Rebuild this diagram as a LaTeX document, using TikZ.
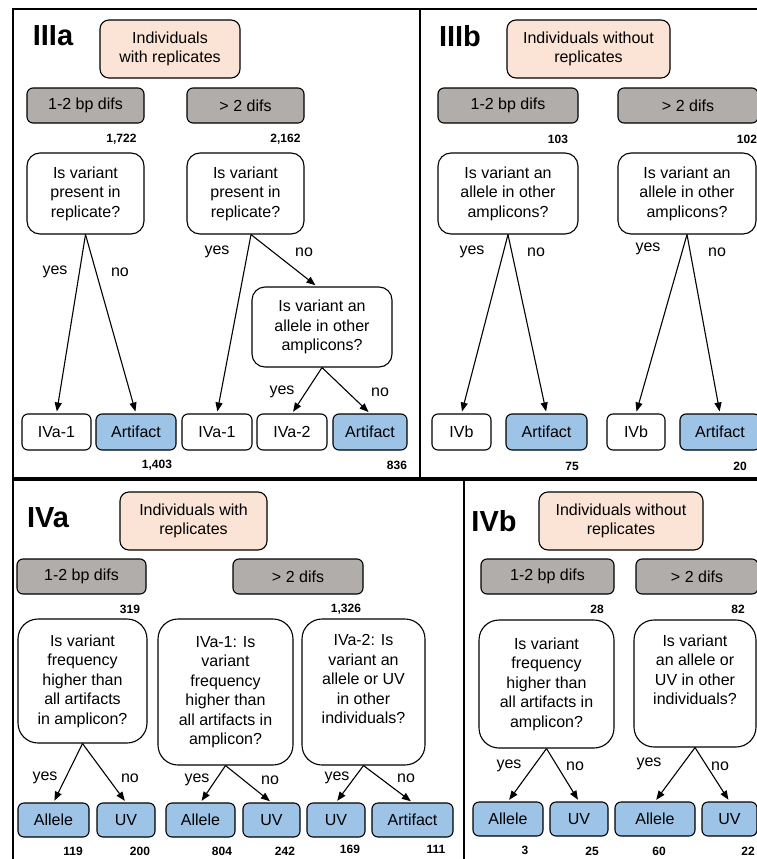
\documentclass[tikz,border=0pt]{standalone}
\usepackage{fontspec}
\setmainfont{Liberation Sans}
\usetikzlibrary{arrows.meta}
\definecolor{peach}{RGB}{251,228,213}
\definecolor{boxgray}{RGB}{176,173,171}
\definecolor{leafblue}{RGB}{157,195,230}
\begin{document}
\begin{tikzpicture}[x=1pt,y=-1pt,
  panel/.style={draw, line width=1.8pt},
  base/.style={draw, line width=1.1pt, rounded corners=6pt, align=center, inner sep=0pt, font=\fontsize{16}{19.5}\selectfont},
  topbox/.style={base, fill=peach, rounded corners=9pt},
  graybox/.style={base, fill=boxgray, rounded corners=6pt},
  qbox/.style={base, fill=white, rounded corners=13pt},
  qboxb/.style={base, fill=white, rounded corners=20pt},
  leaf/.style={base, fill=white, minimum height=36pt},
  bleaf/.style={base, fill=leafblue, minimum height=36pt},
  leafb/.style={base, fill=leafblue, minimum height=34pt},
  num/.style={font=\bfseries\fontsize{12}{14}\selectfont, inner sep=0pt},
  lbl/.style={font=\fontsize{16}{19}\selectfont, inner sep=0pt},
  ttl/.style={font=\bfseries\fontsize{29}{32}\selectfont, inner sep=0pt},
  arr/.style={-{Triangle[length=9pt,width=7pt]}, line width=1.1pt, shorten >=2pt},
]
\useasboundingbox (0,0) rectangle (757,859);
\fill[white] (0,0) rectangle (757,859);
\clip (0,0) rectangle (757,859);
% panels
\draw[panel] (13,9) rectangle (420,478);
\draw[panel] (420,9) rectangle (775,478);
\draw[panel] (13,480) rectangle (464,875);
\draw[panel] (464,480) rectangle (775,875);

% ---------------- IIIa ----------------
\node[ttl] (t3a) at (53,36) {IIIa};
\node[topbox, minimum width=140pt, minimum height=58pt] (top3a) at (170,49) {Individuals\\with replicates};
\node[graybox, minimum width=117pt, minimum height=35pt] (g3a1) at (85.5,105.5) {1-2 bp difs};
\node[graybox, minimum width=117pt, minimum height=35pt] (g3a2) at (245.5,105.5) {> 2 difs};
\node[num] (n3a1) at (121.5,139) {1,722};
\node[num] (n3a2) at (285.5,139) {2,162};
\node[qbox, minimum width=117pt, minimum height=81pt] (q3a1) at (85.5,193.5) {Is variant\\present in\\replicate?};
\node[qbox, minimum width=117pt, minimum height=81pt] (q3a2) at (245.5,193.5) {Is variant\\present in\\replicate?};
\node[qbox, minimum width=140pt, minimum height=80pt] (q3a3) at (322,327) {Is variant an\\allele in other\\amplicons?};
\node[leaf, minimum width=69pt] (l3a1) at (56.5,432) {IVa-1};
\node[bleaf, minimum width=80pt] (l3a2) at (136,432) {Artifact};
\node[leaf, minimum width=70pt] (l3a3) at (217,432) {IVa-1};
\node[leaf, minimum width=70pt] (l3a4) at (292,432) {IVa-2};
\node[bleaf, minimum width=74pt] (l3a5) at (370,432) {Artifact};
\node[num] (c3a1) at (157,465) {1,403};
\node[num] (c3a2) at (397,465) {836};
\node[lbl] (y3a1) at (55,272) {yes};
\node[lbl] (o3a1) at (120,272) {no};
\node[lbl] (y3a2) at (217,252) {yes};
\node[lbl] (o3a2) at (304,252) {no};
\node[lbl] (y3a3) at (282,392) {yes};
\node[lbl] (o3a3) at (380,392) {no};
\draw[arr] (q3a1.south) -- (l3a1.north);
\draw[arr] (q3a1.south) -- (l3a2.north);
\draw[arr] ([xshift=5.5pt]q3a2.south) -- (l3a3.north);
\draw[arr] ([xshift=5.5pt]q3a2.south) -- ([xshift=-5pt]q3a3.north);
\draw[arr] (q3a3.south) -- (l3a4.north);
\draw[arr] (q3a3.south) -- (l3a5.north);

% ---------------- IIIb ----------------
\node[ttl] (t3b) at (460,36) {IIIb};
\node[topbox, minimum width=163pt, minimum height=58pt] (top3b) at (588.5,49) {Individuals without\\replicates};
\node[graybox, minimum width=140pt, minimum height=35pt] (g3b1) at (508,105.5) {1-2 bp difs};
\node[graybox, minimum width=140pt, minimum height=35pt] (g3b2) at (688,105.5) {> 2 difs};
\node[num] (n3b1) at (558,139) {103};
\node[num] (n3b2) at (747,139) {102};
\node[qbox, minimum width=140pt, minimum height=81pt] (q3b1) at (508,193.5) {Is variant an\\allele in other\\amplicons?};
\node[qbox, minimum width=138pt, minimum height=81pt] (q3b2) at (687,193.5) {Is variant an\\allele in other\\amplicons?};
\node[leaf, minimum width=59pt] (l3b1) at (461.5,432) {IVb};
\node[bleaf, minimum width=81pt] (l3b2) at (546.5,432) {Artifact};
\node[leaf, minimum width=58pt] (l3b3) at (636,432) {IVb};
\node[bleaf, minimum width=80pt] (l3b4) at (720,432) {Artifact};
\node[num] (c3b1) at (572,466) {75};
\node[num] (c3b2) at (740,466) {20};
\node[lbl] (y3b1) at (472,252) {yes};
\node[lbl] (o3b1) at (536,252) {no};
\node[lbl] (y3b2) at (648,249) {yes};
\node[lbl] (o3b2) at (717,252) {no};
\draw[arr] (q3b1.south) -- (l3b1.north);
\draw[arr] (q3b1.south) -- (l3b2.north);
\draw[arr] (q3b2.south) -- (l3b3.north);
\draw[arr] (q3b2.south) -- (l3b4.north);

% ---------------- IVa ----------------
\node[ttl] (t4a) at (48,518) {IVa};
\node[topbox, minimum width=147pt, minimum height=58pt] (top4a) at (193.5,521) {Individuals with\\replicates};
\node[graybox, minimum width=129pt, minimum height=35pt] (g4a1) at (81.5,576.5) {1-2 bp difs};
\node[graybox, minimum width=130pt, minimum height=35pt] (g4a2) at (298,576.5) {> 2 difs};
\node[num] (n4a1) at (130,609) {319};
\node[num] (n4a2) at (346,609) {1,326};
\node[qboxb, minimum width=129pt, minimum height=124pt] (q4a1) at (82.5,681) {Is variant\\frequency\\higher than\\all artifacts\\in amplicon?};
\node[qboxb, minimum width=135pt, minimum height=146pt] (q4a2) at (225.5,692) {IVa-1: Is\\variant\\frequency\\higher than\\all artifacts in\\amplicon?};
\node[qboxb, minimum width=123pt, minimum height=146pt] (q4a3) at (363.5,692) {IVa-2: Is\\variant an\\allele or UV\\in other\\individuals?\\[6pt]};
\node[leafb, minimum width=71pt] (l4a1) at (53.5,820) {Allele};
\node[leafb, minimum width=58pt] (l4a2) at (126,820) {UV};
\node[leafb, minimum width=69pt] (l4a3) at (200.5,820) {Allele};
\node[leafb, minimum width=57pt] (l4a4) at (271.5,820) {UV};
\node[leafb, minimum width=58pt] (l4a5) at (336,820) {UV};
\node[leafb, minimum width=81pt] (l4a6) at (412.5,820) {Artifact};
\node[num] (c4a1) at (73,851) {119};
\node[num] (c4a2) at (140,851) {200};
\node[num] (c4a3) at (222,851) {804};
\node[num] (c4a4) at (285,851) {242};
\node[num] (c4a5) at (350,849) {169};
\node[num] (c4a6) at (436,849) {111};
\node[lbl] (y4a1) at (45,778) {yes};
\node[lbl] (o4a1) at (130,778) {no};
\node[lbl] (y4a2) at (197,780) {yes};
\node[lbl] (o4a2) at (270,780) {no};
\node[lbl] (y4a3) at (337,778) {yes};
\node[lbl] (o4a3) at (406,778) {no};
\draw[arr] (q4a1.south) -- (l4a1.north);
\draw[arr] (q4a1.south) -- (l4a2.north);
\draw[arr] (q4a2.south) -- (l4a3.north);
\draw[arr] (q4a2.south) -- (l4a4.north);
\draw[arr] (q4a3.south) -- (l4a5.north);
\draw[arr] (q4a3.south) -- (l4a6.north);

% ---------------- IVb ----------------
\node[ttl] (t4b) at (494,521) {IVb};
\node[topbox, minimum width=164pt, minimum height=58pt] (top4b) at (621,521) {Individuals without\\replicates};
\node[graybox, minimum width=133pt, minimum height=35pt] (g4b1) at (547.5,576.5) {1-2 bp difs};
\node[graybox, minimum width=122pt, minimum height=35pt] (g4b2) at (697,576.5) {> 2 difs};
\node[num] (n4b1) at (597,609) {28};
\node[num] (n4b2) at (738,609) {82};
\node[qboxb, minimum width=135pt, minimum height=128pt] (q4b1) at (546.5,684) {Is variant\\frequency\\higher than\\all artifacts in\\amplicon?};
\node[qboxb, minimum width=122pt, minimum height=127pt] (q4b2) at (695,683.5) {Is variant\\an allele or\\UV in other\\individuals?\\[8pt]};
\node[leafb, minimum width=70pt] (l4b1) at (508,819) {Allele};
\node[leafb, minimum width=58pt] (l4b2) at (579,819) {UV};
\node[leafb, minimum width=80pt] (l4b3) at (655,819) {Allele};
\node[leafb, minimum width=55pt] (l4b4) at (729.5,819) {UV};
\node[num] (c4b1) at (525,850) {3};
\node[num] (c4b2) at (592,851) {25};
\node[num] (c4b3) at (659,851) {60};
\node[num] (c4b4) at (748,851) {22};
\node[lbl] (y4b1) at (509,766) {yes};
\node[lbl] (o4b1) at (575,766) {no};
\node[lbl] (y4b2) at (649,764) {yes};
\node[lbl] (o4b2) at (720,766) {no};
\draw[arr] (q4b1.south) -- (l4b1.north);
\draw[arr] (q4b1.south) -- (l4b2.north);
\draw[arr] (q4b2.south) -- (l4b3.north);
\draw[arr] (q4b2.south) -- (l4b4.north);
\end{tikzpicture}
\end{document}
